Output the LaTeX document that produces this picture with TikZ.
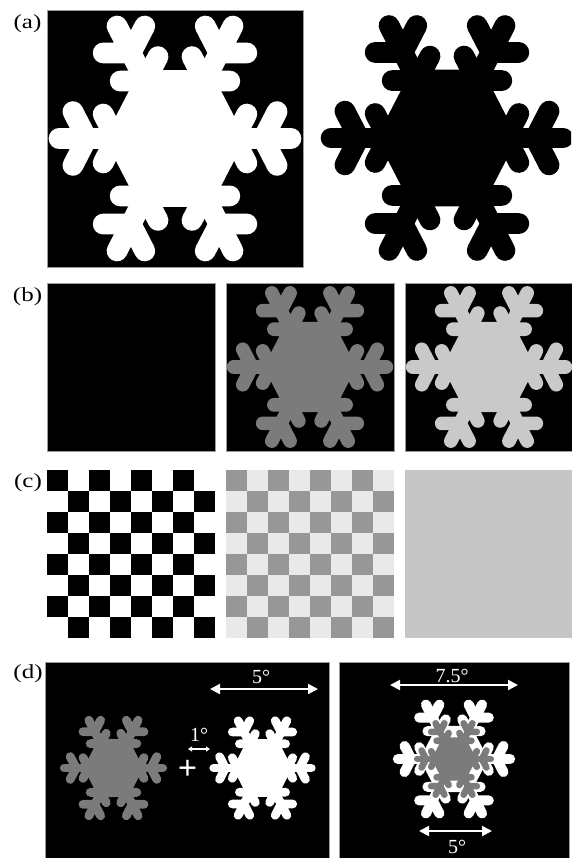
\documentclass[tikz,border=0pt]{standalone}
\usepackage{fontspec}
\setmainfont{Liberation Serif}
\usetikzlibrary{arrows.meta}

\definecolor{rim}{HTML}{9C9C9C}
\definecolor{midgrey}{HTML}{7B7B7B}
\definecolor{palegrey}{HTML}{C9C9C9}
\definecolor{darksq}{HTML}{979797}
\definecolor{lightsq}{HTML}{E9E9E9}
\definecolor{flatgrey}{HTML}{C6C6C6}

% snowflake: #1,#2 centre, #3 arm length, #4 colour
\newcommand{\flake}[4]{%
  \begin{scope}[shift={(#1,#2)}, yscale=1.12, color=#4,
      line width=0.165*#3, line cap=round, line join=round]
    \fill (0:0.56*#3) -- (60:0.56*#3) -- (120:0.56*#3) -- (180:0.56*#3)
      -- (240:0.56*#3) -- (300:0.56*#3) -- cycle;
    \foreach \a in {0,60,...,300} {
      \draw (0,0) -- (\a:0.92*#3);
      \draw (\a:0.47*#3) ++(\a+60:0.20*#3) -- (\a:0.47*#3) -- ++(\a-60:0.20*#3);
      \draw (\a:0.70*#3) ++(\a+60:0.22*#3) -- (\a:0.70*#3) -- ++(\a-60:0.22*#3);
    }
  \end{scope}}

\newcommand{\wide}[1]{\scalebox{1.25}[1]{#1}}

\begin{document}
\begin{tikzpicture}[x=1pt, y=-1pt,
    panel/.style={fill=black},
    rimline/.style={draw=rim, line width=0.8pt},
    tag/.style={font=\fontsize{20}{20}\selectfont, inner sep=0pt},
    deg/.style={font=\fontsize{20}{20}\selectfont, text=white, inner sep=0pt},
    span/.style={white, line width=2pt, <->, >={Triangle[length=10pt, width=10pt]}},
    smallspan/.style={white, line width=1.2pt, <->, >={Triangle[length=4pt, width=5pt]}}
]
\useasboundingbox (0,0) rectangle (571,858);

% (a) target and its negative
\node[tag] (la) at (27.5,24) {\wide{(a)}};
\fill[panel] (47,10) rectangle (303,267);
\begin{scope}
  \clip (47,10) rectangle (303,267);
  \flake{175}{138.5}{126}{white}
\end{scope}
\draw[rimline] (47,10) rectangle (303,267);
\begin{scope}
  \clip (315,0) rectangle (571,280);
  \flake{447}{138}{126}{black}
\end{scope}

% (b) the three backgrounds
\node[tag] (lb) at (27.5,297) {\wide{(b)}};
\fill[panel] (47,283) rectangle ++(168,168);
\draw[rimline] (47,283) rectangle ++(168,168);
\foreach \x/\c in {226/midgrey, 405/palegrey} {
  \fill[panel] (\x,283) rectangle ++(168,168);
  \begin{scope}
    \clip (\x,283) rectangle ++(168,168);
    \flake{\x+84}{367}{83}{\c}
  \end{scope}
  \draw[rimline] (\x,283) rectangle ++(168,168);
}

% (c) checkerboards and plain grey
\node[tag] (lc) at (28,482.5) {\wide{(c)}};
\foreach \j in {0,...,7}
  \foreach \i in {0,2,4,6}
    \fill[black] ({47+21*(\i+mod(\j,2))},{470+21*\j}) rectangle ++(21,21);
\fill[lightsq] (226,470) rectangle ++(168,168);
\foreach \j in {0,...,7}
  \foreach \i in {0,2,4,6}
    \fill[darksq] ({226+21*(\i+mod(\j,2))},{470+21*\j}) rectangle ++(21,21);
\fill[flatgrey] (405,470) rectangle ++(168,168);

% (d) test and comparison displays
\node[tag] (ld) at (28,674) {\wide{(d)}};
\fill[panel] (45,662) rectangle (329,862);
\draw[rimline] (45,662) rectangle (329,862);
\fill[panel] (339,662) rectangle (569.5,862);
\draw[rimline] (339,662) rectangle (569.5,862);

\flake{113.5}{768}{53.5}{midgrey}
\node[font=\fontsize{34}{34}\selectfont\bfseries, text=white, inner sep=0pt] (fix) at (187.5,770) {+};
\flake{262.5}{768}{53}{white}

\coordinate (g1) at (188,749);
\coordinate (g2) at (210,749);
\draw[smallspan] (g1) -- (g2);
\node[deg] (one) at (199,735) {1°};

\coordinate (w1) at (210,689);
\coordinate (w2) at (318,689);
\draw[span] (w1) -- (w2);
\node[deg] (five) at (261,676.5) {5°};

\flake{454}{759}{61}{white}
\flake{454}{759}{40}{midgrey}

\coordinate (o1) at (390,685);
\coordinate (o2) at (518,685);
\draw[span] (o1) -- (o2);
\node[deg] (outer) at (452,675.5) {7.5°};

\coordinate (i1) at (419,831);
\coordinate (i2) at (492,831);
\draw[span] (i1) -- (i2);
\node[deg] (inner) at (457,847) {5°};

\end{tikzpicture}
\end{document}
